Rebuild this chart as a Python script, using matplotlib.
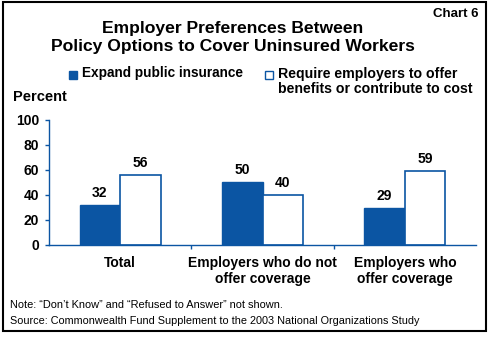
import numpy as np
import matplotlib.pyplot as plt
from matplotlib.patches import Rectangle

# data
categories = ['Total', 'Employers who do not\noffer coverage', 'Employers who\noffer coverage']
expand_public = [32, 50, 29]
require_employers = [56, 40, 59]
series_names = ['Expand public insurance', 'Require employers to offer\nbenefits or contribute to cost']
yticks = [0, 20, 40, 60, 80, 100]

blue = '#0b55a3'
plt.rcParams['font.family'] = ['Liberation Sans', 'DejaVu Sans']

fig = plt.figure(figsize=(4.9, 3.37), dpi=100)
ax = fig.add_axes([49/490, 1-244.5/337, 427/490, 124.8/337])

x = np.arange(len(categories))
w = 0.285
b1 = ax.bar(x - w/2, expand_public, w, color=blue, edgecolor=blue, linewidth=1)
b2 = ax.bar(x + w/2, require_employers, w, color='white', edgecolor=blue, linewidth=1.2)

for rects, vals in [(b1, expand_public), (b2, require_employers)]:
    for r, v in zip(rects, vals):
        ax.text(r.get_x() + r.get_width()/2, v + 4, str(v), ha='center', va='bottom',
                fontsize=10, fontweight='bold')

ax.set_xlim(-0.5, 2.5)
ax.set_ylim(0, 100)
ax.set_yticks(yticks)
ax.set_yticklabels([str(t) for t in yticks], fontsize=10, fontweight='bold')
ax.set_xticks([0.5, 1.5])
ax.set_xticklabels([])
ax.tick_params(axis='y', length=3, color=blue, width=1, pad=4)
ax.tick_params(axis='x', length=3, color=blue, width=1)
for c, lab in zip(x, categories):
    ax.text(c, -9, lab, ha='center', va='top', fontsize=10, fontweight='bold',
            transform=ax.transData, linespacing=1.2)
for s in ['top', 'right']:
    ax.spines[s].set_visible(False)
for s in ['left', 'bottom']:
    ax.spines[s].set_color(blue)
    ax.spines[s].set_linewidth(1)

# titles and annotations
fig.text(233/490, 1-37.5/337, 'Employer Preferences Between\nPolicy Options to Cover Uninsured Workers',
         ha='center', va='center', fontsize=12.6, fontweight='bold', linespacing=1.2)
fig.text(478/490, 1-14/337, 'Chart 6', ha='right', va='center', fontsize=9.5, fontweight='bold')
fig.text(13/490, 1-97.5/337, 'Percent', ha='left', va='center', fontsize=10.5, fontweight='bold')

# legend
fig.patches.append(Rectangle((69/490, 1-79/337), 8/490, 8/337, transform=fig.transFigure,
                             facecolor=blue, edgecolor=blue, lw=1))
fig.text(82/490, 1-73.5/337, series_names[0], ha='left', va='center', fontsize=9.8, fontweight='bold')
fig.patches.append(Rectangle((265/490, 1-79/337), 8/490, 8/337, transform=fig.transFigure,
                             facecolor='white', edgecolor=blue, lw=1))
fig.text(278/490, 1-81.5/337, series_names[1], ha='left', va='center', fontsize=10.2, fontweight='bold',
         linespacing=1.15)

fig.text(10/490, 1-305/337, 'Note: \u201cDon\u2019t Know\u201d and \u201cRefused to Answer\u201d not shown.',
         ha='left', va='center', fontsize=7.9)
fig.text(10/490, 1-321/337, 'Source: Commonwealth Fund Supplement to the 2003 National Organizations Study',
         ha='left', va='center', fontsize=7.8)

# frame
fig.patches.append(Rectangle((3/490, 1-331/337), 483/490, 329/337, transform=fig.transFigure,
                             facecolor='none', edgecolor='black', lw=1.5))

fig.savefig('out.png', dpi=100)
